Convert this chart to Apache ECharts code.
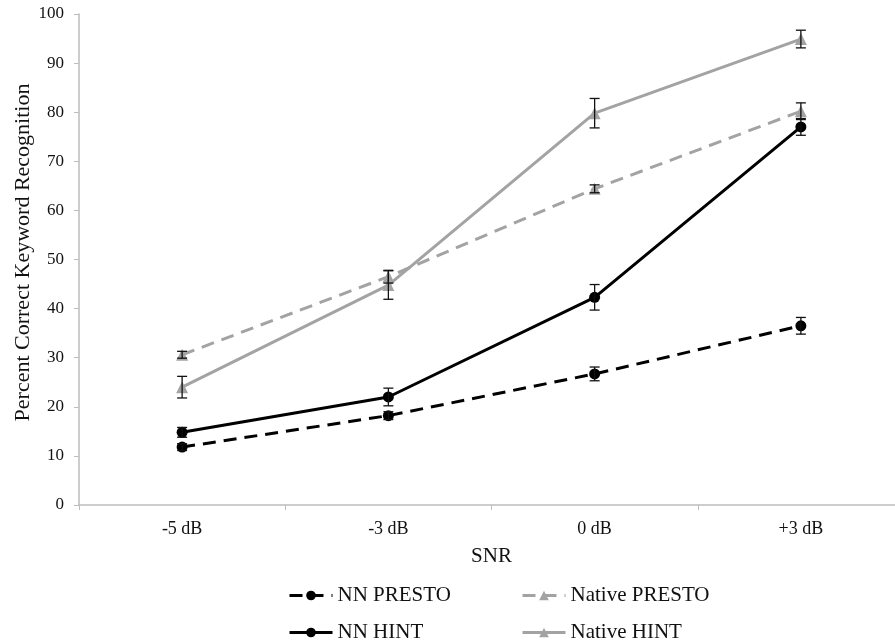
<!DOCTYPE html>
<html>
<head>
<meta charset="utf-8">
<script src="https://cdn.jsdelivr.net/npm/echarts@6/dist/echarts.min.js"></script>
<style>html,body{margin:0;padding:0;background:#fff}#c{width:895px;height:644px}</style>
</head>
<body>
<div id="c"></div>
<script>
var categories = ['-5 dB', '-3 dB', '0 dB', '+3 dB'];
var nnPresto = [11.8, 18.2, 26.7, 36.5];
var nnPrestoErr = [0.7, 0.8, 1.4, 1.7];
var nnHint = [14.8, 22.0, 42.3, 77.0];
var nnHintErr = [1.0, 1.8, 2.6, 1.7];
var nativePresto = [30.6, 46.5, 64.4, 80.2];
var nativePrestoErr = [0.7, 1.3, 0.8, 1.7];
var nativeHint = [24.0, 44.8, 79.8, 94.9];
var nativeHintErr = [2.2, 2.9, 3.0, 1.8];
var yTicks = [0, 10, 20, 30, 40, 50, 60, 70, 80, 90, 100];

var FONT = '"Liberation Serif", "Times New Roman", serif';
var GRAY = '#a3a3a3';

function errData(vals, errs) {
  return vals.map(function (v, i) { return [i, v - errs[i], v + errs[i]]; });
}
function errSeries(vals, errs) {
  return {
    type: 'custom',
    z: 5,
    silent: true,
    data: errData(vals, errs),
    renderItem: function (params, api) {
      var lo = api.coord([api.value(0), api.value(1)]);
      var hi = api.coord([api.value(0), api.value(2)]);
      var hw = 5;
      var st = { stroke: '#111', lineWidth: 1.3 };
      return {
        type: 'group',
        children: [
          { type: 'line', shape: { x1: lo[0], y1: lo[1], x2: hi[0], y2: hi[1] }, style: st },
          { type: 'line', shape: { x1: lo[0] - hw, y1: lo[1], x2: lo[0] + hw, y2: lo[1] }, style: st },
          { type: 'line', shape: { x1: hi[0] - hw, y1: hi[1], x2: hi[0] + hw, y2: hi[1] }, style: st }
        ]
      };
    }
  };
}
function lineSeries(name, vals, color, dashed, symbol) {
  return {
    name: name,
    type: 'line',
    data: vals,
    z: 3,
    symbol: symbol,
    symbolSize: symbol === 'circle' ? 11 : 12,
    lineStyle: { color: color, width: 3, type: dashed ? [13, 8] : 'solid' },
    itemStyle: { color: color },
    emphasis: { disabled: true }
  };
}
function legendBox(left, names) {
  return {
    orient: 'vertical', left: left, top: 580, width: 260, height: 80,
    itemWidth: 43, itemHeight: 12, itemGap: 16,
    lineStyle: { width: 3 },
    textStyle: { fontFamily: FONT, fontSize: 21, color: '#111' },
    data: names
  };
}

var chart = echarts.init(document.getElementById('c'), null, { renderer: 'canvas' });
chart.setOption({
  animation: false,
  backgroundColor: '#fff',
  grid: { left: 79, top: 14, width: 825, height: 491, containLabel: false, outerBoundsMode: 'none' },
  xAxis: {
    type: 'category',
    data: categories,
    boundaryGap: true,
    name: 'SNR',
    nameLocation: 'middle',
    nameGap: 41,
    nameMoveOverlap: false,
    nameTextStyle: { fontFamily: FONT, fontSize: 21, color: '#111' },
    axisLine: { lineStyle: { color: '#bdbdbd', width: 1.5 } },
    axisTick: { show: true, length: 5, lineStyle: { color: '#bdbdbd' } },
    axisLabel: { fontFamily: FONT, fontSize: 18, color: '#111', margin: 15 }
  },
  yAxis: {
    type: 'value',
    min: yTicks[0],
    max: yTicks[yTicks.length - 1],
    interval: 10,
    name: 'Percent Correct Keyword Recognition',
    nameLocation: 'middle',
    nameGap: 45,
    nameMoveOverlap: false,
    nameTextStyle: { fontFamily: FONT, fontSize: 22, color: '#111', padding: [0, 0, 0, 14] },
    axisLine: { show: true, lineStyle: { color: '#bdbdbd', width: 1.5 } },
    axisTick: { show: true, length: 5, lineStyle: { color: '#bdbdbd' } },
    splitLine: { show: false },
    axisLabel: { fontFamily: FONT, fontSize: 17, color: '#111', margin: 15 }
  },
  legend: [
    legendBox(283, ['NN PRESTO', 'NN HINT']),
    legendBox(516, ['Native PRESTO', 'Native HINT'])
  ],
  series: [
    lineSeries('NN PRESTO', nnPresto, '#000', true, 'circle'),
    lineSeries('Native PRESTO', nativePresto, GRAY, true, 'triangle'),
    lineSeries('NN HINT', nnHint, '#000', false, 'circle'),
    lineSeries('Native HINT', nativeHint, GRAY, false, 'triangle'),
    errSeries(nnPresto, nnPrestoErr),
    errSeries(nnHint, nnHintErr),
    errSeries(nativePresto, nativePrestoErr),
    errSeries(nativeHint, nativeHintErr)
  ]
});
</script>
</body>
</html>
